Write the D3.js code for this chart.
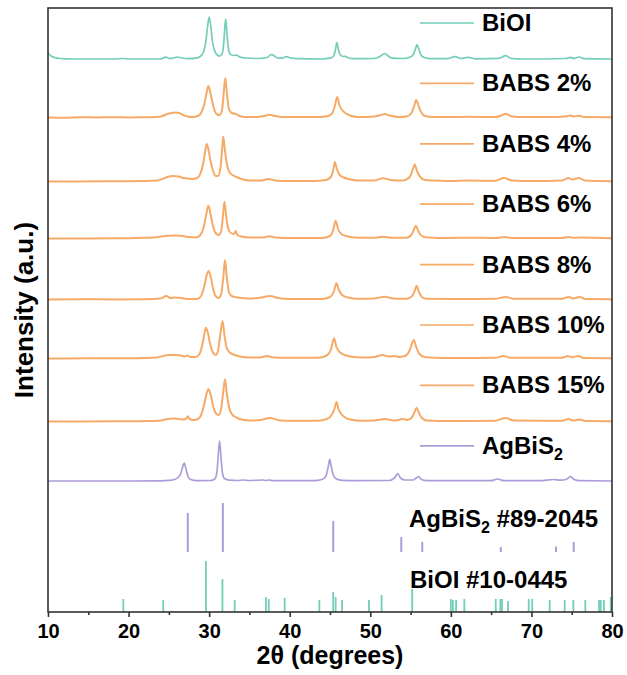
<html>
  <head>
    <title>XRD patterns</title>
    <style>
      body { margin: 0; background: #fff; }
      text { font-family: "Liberation Sans", Arial, sans-serif; font-weight: bold; fill: #000; }
    </style>
  </head>
  <body>
    <svg id="chart" width="627" height="675"></svg>

    <script type="text/javascript" src="https://cdnjs.cloudflare.com/ajax/libs/d3/7.8.5/d3.min.js"></script>
    <script type="text/javascript">
      // x ticks
      var majorTicks = [10, 20, 30, 40, 50, 60, 70, 80];
      var minorTicks = [15, 25, 35, 45, 55, 65, 75];

      // measured patterns, [2theta, counts above own baseline]
      var biOI = [[10, 6], [10.3, 3.5], [10.8, 1.5], [11.5, 0.5], [13, 0], [18, 0], [19.4, 0.5], [20, 0], [24, 0], [24.6, 1.8], [25.1, 0.5], [25.6, 1], [26.0, 2], [26.6, 1], [27.5, 0.3], [28.3, 0.8], [28.9, 2.5], [29.3, 7], [29.6, 18], [29.8, 32], [30.0, 42], [30.2, 33], [30.4, 18], [30.7, 8], [31.0, 4], [31.3, 3], [31.6, 5], [31.8, 15], [31.95, 32], [32.05, 40], [32.2, 26], [32.4, 10], [32.6, 5], [33.0, 3.5], [33.4, 4], [33.8, 2], [34.5, 1], [36, 0.5], [37.2, 1.5], [37.6, 4], [37.8, 4.3], [38.1, 3], [38.5, 1], [39.0, 0.8], [39.6, 2.3], [40.2, 0.8], [41, 0.3], [44, 0], [45.0, 0.8], [45.4, 2.5], [45.65, 8], [45.85, 16.5], [46.05, 9], [46.3, 4], [46.6, 2.5], [46.9, 2.7], [47.3, 1], [48, 0.3], [50.5, 0.5], [51.2, 2.5], [51.8, 5.5], [52.3, 2.5], [52.8, 0.8], [54, 0.5], [54.8, 1.5], [55.3, 4], [55.6, 10], [55.8, 14.3], [56.05, 9], [56.3, 4], [56.7, 1.5], [57.5, 0.3], [59.5, 0.3], [60.5, 2.3], [61.2, 0.5], [62.2, 1.7], [63, 0.2], [66, 0.6], [66.8, 3.3], [67.5, 0.5], [69, 0], [74.3, 0.5], [74.8, 1.7], [75.3, 0.6], [75.9, 2], [76.5, 0.3], [80, 0]];

      var babs2 = [[10, 0.5], [12, 0.3], [14, 0.8], [16, 0.6], [18, 0.8], [20, 0.6], [22, 0.8], [23.5, 1], [24.2, 2], [24.8, 4], [25.3, 5], [25.8, 5.5], [26.3, 5], [26.8, 3], [27.3, 1.5], [28, 1], [28.6, 2], [29.0, 5], [29.4, 14], [29.7, 26], [29.9, 32], [30.1, 27], [30.4, 16], [30.7, 7], [31.0, 3.5], [31.3, 3], [31.6, 8], [31.8, 24], [32.0, 40], [32.2, 25], [32.45, 9], [32.8, 5], [33.3, 4], [33.8, 2], [34.5, 1], [36, 1], [36.8, 2], [37.5, 3.3], [38.2, 2], [39, 1], [40, 1], [43, 1], [44.5, 1.5], [45.2, 4], [45.6, 12], [45.9, 21], [46.2, 12], [46.5, 8], [46.9, 5], [47.5, 2.5], [48.5, 1], [50.5, 1.5], [51.3, 3], [51.8, 4], [52.4, 2.5], [53.5, 1], [54.5, 1.5], [55.1, 5], [55.45, 12], [55.7, 18], [56.0, 12], [56.3, 6], [56.8, 2], [57.8, 1], [60, 1], [62, 1.2], [65.5, 1], [66.3, 2.5], [66.8, 4.3], [67.4, 2], [68.5, 1], [72, 1], [74.2, 1.5], [74.8, 2.5], [75.3, 1.5], [75.9, 2.3], [76.5, 1], [80, 0.8]];

      var babs4 = [[10, 0.5], [14, 0.5], [18, 0.8], [22, 1], [23.6, 1.5], [24.2, 3], [24.8, 5], [25.5, 6], [26.2, 5.5], [26.8, 4], [27.4, 3.5], [28.0, 3], [28.5, 4], [28.9, 8], [29.3, 20], [29.55, 33], [29.7, 38], [29.9, 33], [30.2, 20], [30.5, 11], [30.8, 6], [31.1, 6], [31.4, 14], [31.6, 32], [31.75, 45.5], [31.95, 32], [32.2, 18], [32.5, 10], [32.9, 7], [33.4, 5], [34, 3], [35, 1.5], [36.5, 1.5], [37.4, 3], [38.2, 1.5], [40, 1], [43, 1], [44.5, 2], [45.1, 5], [45.4, 12], [45.6, 20], [45.85, 13], [46.2, 7], [46.7, 4.5], [47.3, 3], [48.5, 1.5], [50.5, 1.5], [51.6, 3.7], [52.5, 2], [54, 1.5], [54.9, 5], [55.25, 12], [55.5, 17.5], [55.8, 11], [56.2, 5], [56.8, 2], [58, 1.5], [60, 1], [62, 1.5], [65.5, 1.2], [66.6, 4], [67.6, 1.5], [70, 1], [73.8, 1.5], [74.6, 4], [75.1, 2.5], [75.9, 4], [76.6, 1.5], [80, 0.8]];

      var babs6 = [[10, 0.5], [15, 0.6], [20, 0.8], [22, 1.2], [23.5, 1.8], [24.5, 3], [25.5, 3.5], [26.5, 3.3], [27.5, 2], [28.3, 1.5], [28.9, 4], [29.3, 11], [29.65, 25], [29.9, 33.3], [30.15, 26], [30.45, 14], [30.8, 6], [31.2, 4], [31.5, 8], [31.7, 22], [31.9, 37.3], [32.1, 24], [32.35, 11], [32.7, 6], [33.1, 5], [33.3, 8], [33.5, 4], [34, 2.5], [35, 1.5], [36.5, 1.5], [37.5, 2.7], [38.3, 1.5], [40, 1], [44, 1], [45.0, 3], [45.4, 9], [45.7, 18.3], [46.0, 10], [46.4, 5], [47.0, 3], [48, 1.5], [50.5, 1.2], [51.6, 2.3], [52.6, 1.3], [54.5, 1.2], [55.1, 4], [55.45, 10], [55.66, 13.3], [55.95, 8], [56.3, 3.5], [57, 1.5], [60, 1], [62, 1.3], [65.5, 1], [66.7, 2], [67.5, 1], [73.8, 1], [74.6, 2], [75.2, 1.2], [76, 1.5], [80, 0.8]];

      var babs8 = [[10, 0.5], [14, 0.8], [18, 0.6], [22, 0.8], [24, 1.5], [24.7, 4], [25.2, 2], [25.8, 2.5], [26.5, 2], [27.5, 1], [28.5, 1], [29.0, 4], [29.4, 14], [29.7, 25], [29.93, 29], [30.2, 23], [30.5, 11], [30.8, 4], [31.2, 2], [31.5, 6], [31.75, 22], [31.97, 40], [32.2, 22], [32.45, 8], [32.8, 4], [33.5, 2.5], [35, 1.5], [36.5, 2.5], [37.6, 4], [38.5, 2], [40, 1], [44, 1], [45.0, 3], [45.5, 9], [45.8, 16.7], [46.1, 10], [46.5, 5], [47.2, 2.5], [48.5, 1.2], [50.5, 1.5], [51.8, 3.3], [52.8, 1.5], [54.5, 1.2], [55.2, 4], [55.55, 10], [55.75, 14.3], [56.05, 8], [56.4, 3], [57, 1.2], [60, 1], [65.5, 1.2], [66.8, 3], [67.8, 1.2], [73.8, 1.2], [74.6, 3], [75.2, 1.5], [76.0, 3], [76.7, 1], [80, 0.8]];

      var babs10 = [[10, 0.5], [15, 0.7], [20, 0.8], [22, 1], [23.5, 1.5], [24.3, 3], [25, 4], [25.8, 4], [26.5, 3.5], [27.0, 2.5], [27.3, 3.5], [27.7, 2], [28.3, 2], [28.8, 5], [29.2, 16], [29.45, 27], [29.6, 31.3], [29.85, 26], [30.15, 14], [30.5, 6], [30.8, 4], [31.1, 8], [31.35, 22], [31.66, 38], [31.9, 24], [32.15, 12], [32.5, 7], [33, 4.5], [33.8, 2.5], [35, 1.5], [36.3, 1.5], [37.2, 3], [38, 1.5], [40, 1.2], [43.5, 1.3], [44.5, 3], [45.1, 9], [45.5, 20.7], [45.8, 12], [46.2, 7], [46.8, 4], [47.5, 2.5], [49, 1.5], [50.5, 2], [51.5, 4], [52.3, 2.5], [53.0, 3], [53.6, 2], [54.3, 3], [54.9, 9], [55.2, 16], [55.4, 19], [55.7, 12], [56.1, 5], [56.7, 2], [58, 1.2], [60, 1], [65.5, 1.2], [66.5, 3], [67.4, 1.2], [73.8, 1.2], [74.5, 3], [75.1, 1.8], [75.8, 3], [76.5, 1], [80, 0.8]];

      var babs15 = [[10, 0.5], [15, 0.6], [20, 0.8], [22.5, 1], [24, 1.5], [24.8, 3], [25.5, 3.5], [26.2, 3], [26.9, 2.5], [27.2, 4], [27.35, 5.7], [27.55, 3], [28.0, 2], [28.6, 3], [29.0, 7], [29.4, 18], [29.7, 29], [29.93, 32.7], [30.2, 27], [30.55, 14], [30.9, 8], [31.2, 7], [31.5, 14], [31.75, 30], [31.97, 42.7], [32.2, 28], [32.5, 14], [32.9, 7], [33.3, 5], [33.8, 3], [35, 1.5], [36.3, 2], [37.6, 4], [38.6, 1.8], [40, 1.2], [43.5, 1.3], [44.6, 3], [45.2, 7], [45.55, 13], [45.8, 20], [46.05, 13], [46.4, 8], [46.8, 5], [47.5, 2.5], [49, 1.3], [50.5, 1.5], [51.8, 3], [53, 1.5], [53.7, 2.5], [54.1, 3], [54.6, 2], [55.2, 5], [55.55, 11], [55.75, 14.3], [56.05, 9], [56.4, 4], [57, 1.5], [60, 1], [65.5, 1.3], [66.8, 4], [67.8, 1.5], [73.8, 1.2], [74.6, 3], [75.2, 1.5], [76.0, 2.5], [76.7, 1], [80, 0.8]];

      var agBiS2 = [[10, 0], [20, 0], [24, 0.2], [25, 0.6], [25.7, 1.5], [26.2, 4], [26.5, 8], [26.75, 15], [26.9, 18], [27.1, 13], [27.35, 5], [27.7, 1.5], [28.5, 0.3], [30.2, 0.5], [30.7, 2], [30.95, 8], [31.15, 28], [31.3, 40], [31.45, 26], [31.65, 8], [31.9, 2.5], [32.5, 0.8], [33.5, 0.5], [34.2, 1], [35, 0.5], [36.7, 1], [37.0, 0.4], [37.4, 1], [38, 0.3], [43, 0.3], [44, 1.5], [44.5, 5], [44.8, 15], [44.96, 21.7], [45.15, 15], [45.4, 6], [45.8, 2], [46.5, 0.7], [48, 0.3], [52.3, 0.5], [53.0, 3], [53.4, 7.3], [53.75, 3], [54.3, 1], [55.3, 1], [55.7, 3], [56.0, 4.3], [56.35, 1.5], [57, 0.3], [65, 0.3], [65.8, 2], [66.6, 0.3], [71, 0.3], [72.8, 1.5], [73.6, 0.8], [74.3, 1.5], [74.85, 4.3], [75.3, 1.5], [76, 0.3], [80, 0]];

      // reference cards, [2theta, stick height]
      var agBiS2Ref = [[27.35, 39], [31.7, 49], [45.4, 31], [53.85, 15], [56.45, 10], [66.2, 5], [73.05, 5.5], [75.25, 10]];
      var biOIRef = [[19.35, 13], [24.3, 12], [29.6, 51], [31.65, 33], [33.17, 12], [37.05, 15], [37.4, 13], [39.37, 14], [43.68, 12], [45.4, 20], [45.7, 15], [46.5, 12], [49.84, 12], [51.4, 17], [55.2, 23], [60.0, 13], [60.25, 12], [60.65, 12], [61.67, 13], [65.57, 13], [66.14, 13], [66.35, 13], [67.1, 11], [69.66, 13], [70.1, 13], [72.27, 12], [74.13, 12], [75.2, 12], [76.69, 12], [78.39, 12], [78.6, 12], [79.0, 12], [79.84, 15]];

      var teal = '#72cdb9', orange = '#f6aa66', purple = '#ae9cd9';

      // stacked from the top, offset = baseline of each curve
      var series = [
        { name: 'BiOI', data: biOI, offset: 553, color: teal },
        { name: 'BABS 2%', data: babs2, offset: 494, color: orange },
        { name: 'BABS 4%', data: babs4, offset: 430, color: orange },
        { name: 'BABS 6%', data: babs6, offset: 373, color: orange },
        { name: 'BABS 8%', data: babs8, offset: 312, color: orange },
        { name: 'BABS 10%', data: babs10, offset: 253, color: orange },
        { name: 'BABS 15%', data: babs15, offset: 190, color: orange },
        { name: 'AgBiS', sub: '2', data: agBiS2, offset: 131, color: purple }
      ];
      var refs = [
        { data: agBiS2Ref, offset: 60, color: purple, width: 2 },
        { data: biOIRef, offset: 0, color: teal, width: 1.8 }
      ];

      // plot box (window.top is read-only, so no "top" here)
      var pL = 48, pR = 612, pT = 8, pB = 612;
      var svg = d3.select('#chart');

      var x = d3.scaleLinear().domain([10, 80]).range([pL, pR]);
      var y = d3.scaleLinear().domain([0, 604]).range([pB, pT]);

      var line = d3.line()
        .x(function (d) { return x(d[0]); })
        .y(function (d) { return y(d[1]); })
        .curve(d3.curveMonotoneX);

      svg.append('g').selectAll('path').data(series).enter().append('path')
        .attr('d', function (s) { return line(s.data.map(function (p) { return [p[0], p[1] + s.offset]; })); })
        .style('fill', 'none')
        .style('stroke', function (s) { return s.color; })
        .style('stroke-width', function (s) { return s.color === orange ? 2 : 1.7; })
        .style('stroke-linejoin', 'round');

      // reference sticks
      refs.forEach(function (r) {
        svg.append('g').selectAll('line').data(r.data).enter().append('line')
          .attr('x1', function (d) { return x(d[0]); })
          .attr('x2', function (d) { return x(d[0]); })
          .attr('y1', y(r.offset))
          .attr('y2', function (d) { return y(r.offset + d[1]); })
          .style('stroke', r.color)
          .style('stroke-width', r.width);
      });

      // legend
      var legend = svg.append('g').selectAll('g').data(series).enter().append('g')
        .attr('transform', function (s, i) { return 'translate(420,' + (23 + i * 60.4) + ')'; });
      legend.append('line')
        .attr('x1', 0).attr('x2', 54)
        .style('stroke', function (s) { return s.color; })
        .style('stroke-width', 1.7);
      var lt = legend.append('text')
        .attr('x', 62).attr('y', 8)
        .style('font-size', '24px')
        .text(function (s) { return s.name; });
      lt.filter(function (s) { return s.sub; }).append('tspan')
        .attr('dy', 6).style('font-size', '16px')
        .text(function (s) { return s.sub; });

      // card labels
      var c1 = svg.append('text').attr('x', 409).attr('y', 527).style('font-size', '24px').text('AgBiS');
      c1.append('tspan').attr('dy', 6).style('font-size', '16px').text('2');
      c1.append('tspan').attr('dy', -6).text(' #89-2045');
      svg.append('text').attr('x', 410).attr('y', 588).style('font-size', '24px').text('BiOI #10-0445');

      // frame
      svg.append('rect')
        .attr('x', pL).attr('y', pT)
        .attr('width', pR - pL).attr('height', pB - pT)
        .style('fill', 'none').style('stroke', '#333').style('stroke-width', 1.6);

      // x axis
      var xAxis = svg.append('g').attr('transform', 'translate(0,' + pB + ')')
        .call(d3.axisBottom(x).tickValues(majorTicks).tickSize(5).tickPadding(7).tickFormat(d3.format('d')));
      xAxis.select('.domain').remove();
      xAxis.selectAll('line').style('stroke', '#333').style('stroke-width', 1.6);
      xAxis.selectAll('text').style('font-size', '20px');

      var xMinor = svg.append('g').attr('transform', 'translate(0,' + pB + ')')
        .call(d3.axisBottom(x).tickValues(minorTicks).tickSize(3).tickFormat(''));
      xMinor.select('.domain').remove();
      xMinor.selectAll('line').style('stroke', '#333').style('stroke-width', 1.6);

      // titles
      svg.append('text').attr('x', (pL + pR) / 2).attr('y', 664)
        .attr('text-anchor', 'middle').style('font-size', '25px').text('2θ (degrees)');
      svg.append('text').attr('transform', 'translate(33,' + ((pT + pB) / 2) + ') rotate(-90)')
        .attr('text-anchor', 'middle').style('font-size', '26px').text('Intensity (a.u.)');
    </script>
  </body>
</html>
